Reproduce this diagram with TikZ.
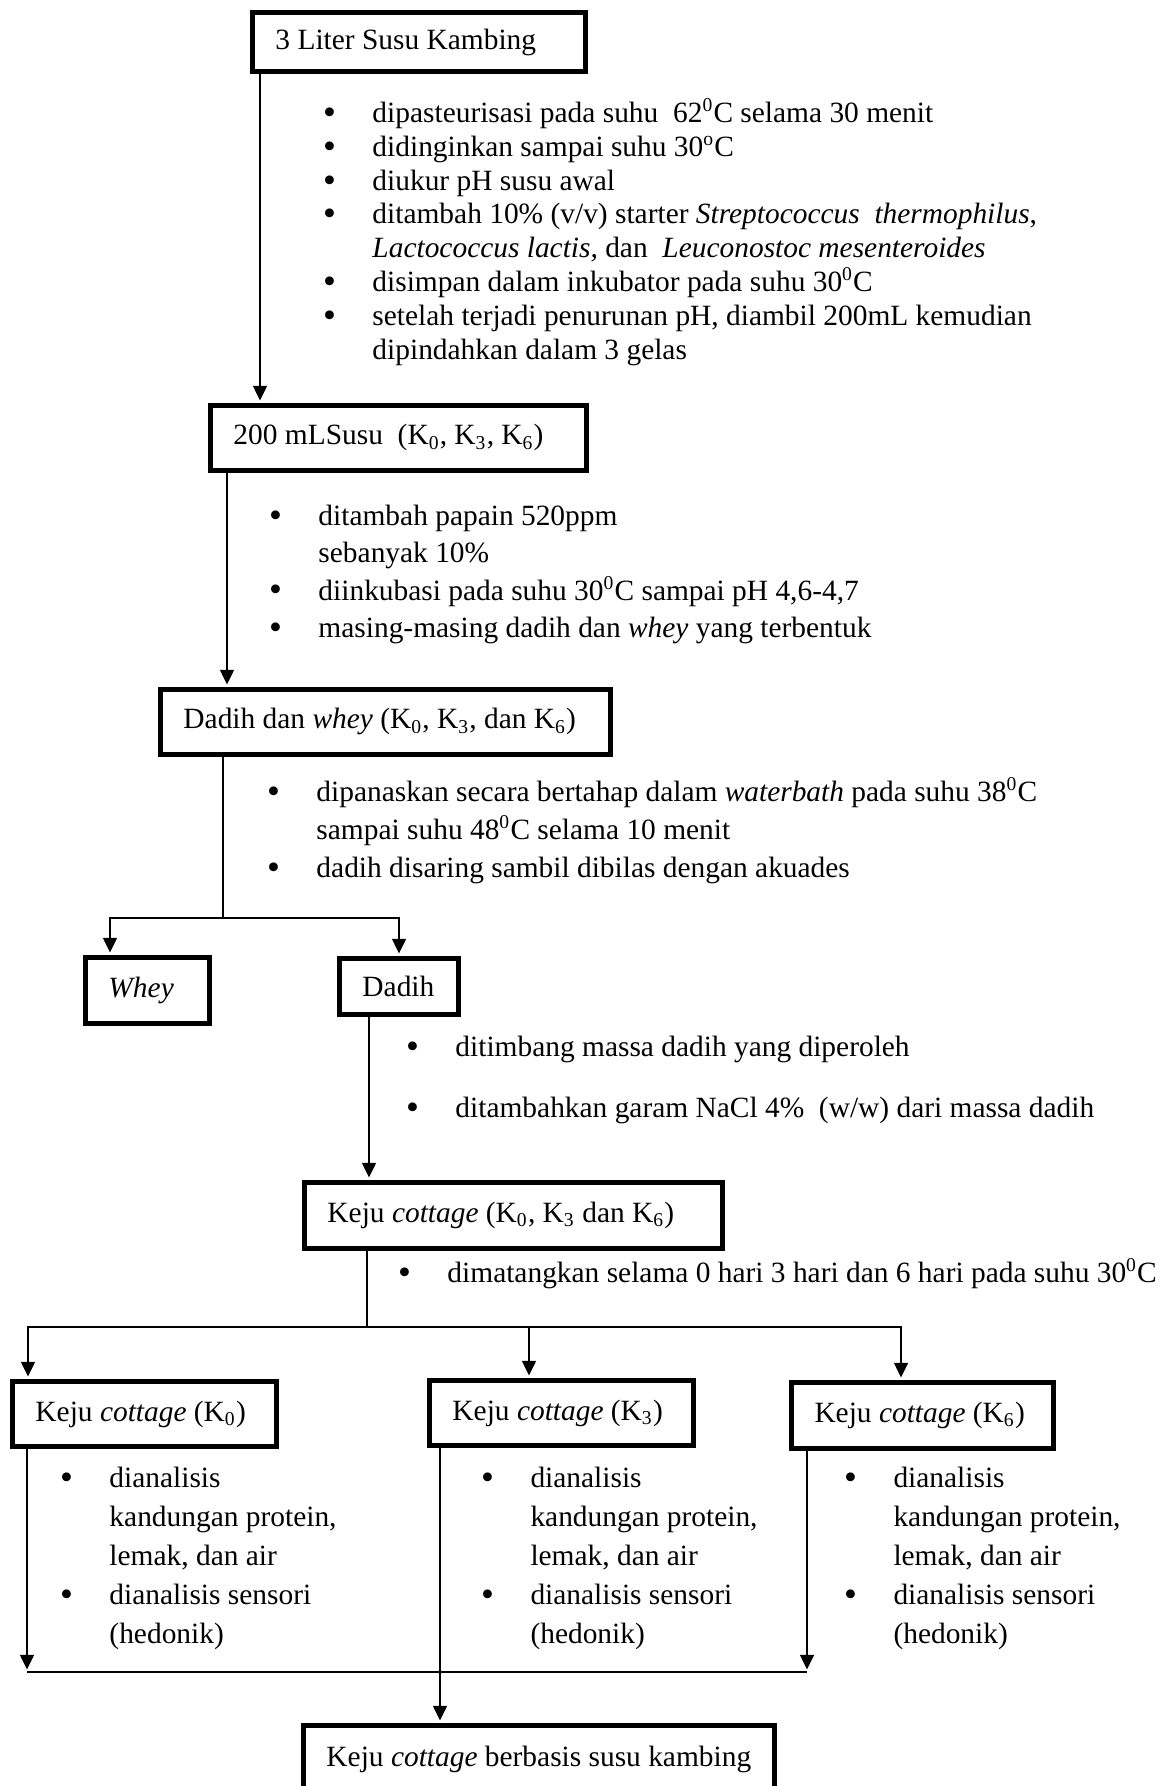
\documentclass[tikz,border=0pt]{standalone}
\usepackage{fontspec}
\setmainfont{Liberation Serif}
\usetikzlibrary{arrows.meta,calc,positioning}
\tikzset{
	>={Triangle[length=6pt,width=5.6pt]},
	x=0.408pt, y=-0.408pt,
	flow/.style={->, line width=0.9pt, shorten >=1pt},
	link/.style={line width=0.9pt}
}
\newcommand{\bul}{\llap{\raisebox{-0.8pt}{\scalebox{1.25}{\textbullet}}\hspace{14.9pt}}}
\newcommand{\fst}{\rule{0pt}{12pt}}
\newcommand{\dg}[1]{\textsuperscript{#1}C}

\begin{document}
\begin{tikzpicture}[font=\fontsize{12}{13.8}\selectfont]
		\tikzstyle{format} = [draw, line width=2pt, anchor=north west,
		inner xsep=9.4pt, inner ysep=0pt, align=flush left]
		\tikzstyle{note} = [anchor=north west, inner sep=0pt, align=flush left]
		\useasboundingbox (0,0) rectangle (1165,1786);
		% boxes
		\node[format, text width=117.1pt, minimum height=24.1pt] (b1) at (250,10) {3 Liter Susu Kambing};
		\node[format, text width=134.6pt, minimum height=26.5pt] (b2) at (208,403) {200 mLSusu\ \ (K\textsubscript{0}, K\textsubscript{3}, K\textsubscript{6})};
		\node[format, text width=164.8pt, minimum height=26.5pt] (b3) at (158,687) {\mbox{Dadih dan \textit{whey} (K\textsubscript{0}, K\textsubscript{3}, dan K\textsubscript{6})}};
		\node[format, text width=31.8pt, minimum height=26.9pt] (wh) at (83,955) {\textit{Whey}};
		\node[format, text width=29.8pt, minimum height=22.8pt] (dd) at (337,956) {Dadih};
		\node[format, text width=151.7pt, minimum height=26.9pt] (kj) at (302,1180) {Keju \textit{cottage} (K\textsubscript{0}, K\textsubscript{3} dan K\textsubscript{6})};
		\node[format, text width=88.9pt, minimum height=26.5pt] (k0) at (10,1379) {\mbox{Keju \textit{cottage} (K\textsubscript{0})}};
		\node[format, text width=88.9pt, minimum height=26.5pt] (k3) at (427,1378) {\mbox{Keju \textit{cottage} (K\textsubscript{3})}};
		\node[format, text width=88.1pt, minimum height=26.9pt] (k6) at (789,1380) {\mbox{Keju \textit{cottage} (K\textsubscript{6})}};
		\node[format, text width=173.4pt, minimum height=27.7pt] (fin) at (301,1723) {\mbox{Keju \textit{cottage} berbasis susu kambing}};
		% steps
		\node[note] (s1) at (372,92.6) {\fst\bul dipasteurisasi pada suhu\ \ 62\dg{0} selama 30 menit\\
			\bul didinginkan sampai suhu 30\dg{o}\\
			\bul diukur pH susu awal\\
			\bul ditambah 10\% (v/v) starter \textit{Streptococcus\ \ thermophilus},\\
			\textit{Lactococcus lactis,} dan\ \ \textit{Leuconostoc mesenteroides}\\
			\bul disimpan dalam inkubator pada suhu 30\dg{0}\\
			\bul setelah terjadi penurunan pH, diambil 200mL kemudian\\
			dipindahkan dalam 3 gelas};
		\node[note, font=\fontsize{12}{15.2}\selectfont] (s2) at (318,495.6) {\fst\bul ditambah papain 520ppm\\
			sebanyak 10\%\\
			\bul diinkubasi pada suhu 30\dg{0} sampai pH 4,6-4,7\\
			\bul masing-masing dadih dan \textit{whey} yang terbentuk};
		\node[note, font=\fontsize{12}{15.5}\selectfont] (s3) at (316,771.6) {\fst\bul dipanaskan secara bertahap dalam \textit{waterbath} pada suhu 38\dg{0}\\
			sampai suhu 48\dg{0} selama 10 menit\\
			\bul dadih disaring sambil dibilas dengan akuades};
		\node[note, font=\fontsize{12}{24.9}\selectfont] (s4) at (455,1026.6) {\fst\bul ditimbang massa dadih yang diperoleh\\
			\bul ditambahkan garam NaCl 4\%\ \ (w/w) dari massa dadih};
		\node[note] (s5) at (447,1252.6) {\fst\bul dimatangkan selama 0 hari 3 hari dan 6 hari pada suhu 30\dg{0}};
		\node[note, font=\fontsize{12}{15.9}\selectfont] (a0) at (109,1457.6) {\fst\bul dianalisis\\ kandungan protein,\\ lemak, dan air\\ \bul dianalisis sensori\\ (hedonik)};
		\node[note, font=\fontsize{12}{15.9}\selectfont] (a3) at (530,1457.6) {\fst\bul dianalisis\\ kandungan protein,\\ lemak, dan air\\ \bul dianalisis sensori\\ (hedonik)};
		\node[note, font=\fontsize{12}{15.9}\selectfont] (a6) at (893,1457.6) {\fst\bul dianalisis\\ kandungan protein,\\ lemak, dan air\\ \bul dianalisis sensori\\ (hedonik)};
		% connectors
		\coordinate (j3) at (223,918);
		\coordinate (j5) at (367,1327);
		\coordinate (j6) at (440,1672);
		\draw[flow] ($(b1.south west)+(10,0)$) coordinate (t1) -- (t1 |- b2.north);
		\draw[flow] ($(b2.south west)+(19,0)$) coordinate (t2) -- (t2 |- b3.north);
		\draw[link] (b3.south -| j3) -- (j3);
		\draw[flow] (j3) -| ($(wh.north west)+(27,0)$);
		\draw[flow] (j3) -| (dd.north);
		\draw[flow] ($(dd.south west)+(32,0)$) coordinate (t4) -- (t4 |- kj.north);
		\draw[link] (kj.south -| j5) -- (j5);
		\draw[flow] (j5) -| ($(k0.north west)+(18,0)$);
		\draw[flow] (j5) -| ($(k3.north west)+(102,0)$);
		\draw[flow] (j5) -| ($(k6.north west)+(112,0)$);
		\draw[flow] ($(k0.south west)+(17,0)$) coordinate (t6) -- (t6 |- j6);
		\draw[flow] ($(k6.south west)+(18,0)$) coordinate (t7) -- (t7 |- j6);
		\draw[link] (t6 |- j6) -- (t7 |- j6);
		\draw[flow] ($(k3.south west)+(13,0)$) coordinate (t8) -- (t8 |- fin.north);
\end{tikzpicture}
\end{document}
